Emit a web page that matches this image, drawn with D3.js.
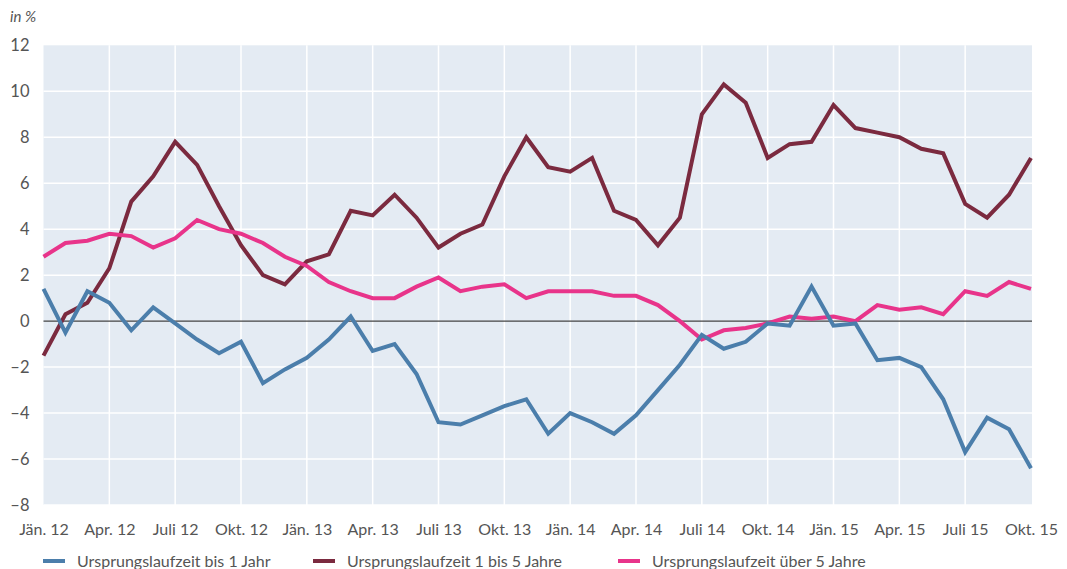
<!DOCTYPE html>
<html>
<head>
<meta charset="utf-8">
<script src="https://cdn.jsdelivr.net/npm/d3@7"></script>
<style>
  body { margin: 0; background: #fff; }
  svg text { font-family: Lato, "Open Sans", sans-serif; fill: #555; }
</style>
</head>
<body>
<svg id="chart"></svg>
<script>
let svgWidth = 1067, svgHeight = 569

// monthly, Jän. 12 .. Okt. 15
let months = d3.range(46)
let bis1 = [1.4, -0.5, 1.3, 0.8, -0.4, 0.6, -0.1, -0.8, -1.4, -0.9, -2.7, -2.1,
  -1.6, -0.8, 0.2, -1.3, -1.0, -2.3, -4.4, -4.5, -4.1, -3.7, -3.4, -4.9,
  -4.0, -4.4, -4.9, -4.1, -3.0, -1.9, -0.6, -1.2, -0.9, -0.1, -0.2, 1.5,
  -0.2, -0.1, -1.7, -1.6, -2.0, -3.4, -5.7, -4.2, -4.7, -6.4]
let bis5 = [-1.5, 0.3, 0.8, 2.3, 5.2, 6.3, 7.8, 6.8, 5.0, 3.3, 2.0, 1.6,
  2.6, 2.9, 4.8, 4.6, 5.5, 4.5, 3.2, 3.8, 4.2, 6.3, 8.0, 6.7,
  6.5, 7.1, 4.8, 4.4, 3.3, 4.5, 9.0, 10.3, 9.5, 7.1, 7.7, 7.8,
  9.4, 8.4, 8.2, 8.0, 7.5, 7.3, 5.1, 4.5, 5.5, 7.1]
let ueber5 = [2.8, 3.4, 3.5, 3.8, 3.7, 3.2, 3.6, 4.4, 4.0, 3.8, 3.4, 2.8,
  2.4, 1.7, 1.3, 1.0, 1.0, 1.5, 1.9, 1.3, 1.5, 1.6, 1.0, 1.3,
  1.3, 1.3, 1.1, 1.1, 0.7, 0.0, -0.8, -0.4, -0.3, -0.1, 0.2, 0.1,
  0.2, 0.0, 0.7, 0.5, 0.6, 0.3, 1.3, 1.1, 1.7, 1.4]
let tickLabels = ['Jän. 12', 'Apr. 12', 'Juli 12', 'Okt. 12', 'Jän. 13', 'Apr. 13', 'Juli 13', 'Okt. 13',
  'Jän. 14', 'Apr. 14', 'Juli 14', 'Okt. 14', 'Jän. 15', 'Apr. 15', 'Juli 15', 'Okt. 15']
let yTicks = [-8, -6, -4, -2, 0, 2, 4, 6, 8, 10, 12]
let seriesNames = ['Ursprungslaufzeit bis 1 Jahr', 'Ursprungslaufzeit 1 bis 5 Jahre', 'Ursprungslaufzeit über 5 Jahre']
let colors = ['#4b7eab', '#7b2a3f', '#e8348a']

let margin = {left: 43.5, right: 36, top: 45.3, bottom: 64}
let svg = d3.select('#chart').attr('width', svgWidth).attr('height', svgHeight)

let x = d3.scaleLinear().domain([0, 45]).range([margin.left, svgWidth - margin.right])
let y = d3.scaleLinear().domain([-8, 12]).range([svgHeight - margin.bottom, margin.top])

// background
svg.append('rect')
  .attr('x', x(0)).attr('y', y(12))
  .attr('width', x(45) - x(0) + 1).attr('height', y(-8) - y(12))
  .attr('fill', '#e4ebf3')

// grid
let grid = svg.append('g').attr('stroke', '#fff').attr('stroke-width', 1.5)
grid.selectAll('.hg').data(yTicks.filter(d => d != 0 && d != 12)).enter().append('line')
  .attr('x1', x(0)).attr('x2', x(45) + 1)
  .attr('y1', d => y(d)).attr('y2', d => y(d))
grid.selectAll('.vg').data(d3.range(3, 45, 3)).enter().append('line')
  .attr('x1', d => x(d)).attr('x2', d => x(d))
  .attr('y1', y(12)).attr('y2', y(-8))

// zero line
svg.append('line')
  .attr('x1', x(0)).attr('x2', x(45) + 1)
  .attr('y1', y(0)).attr('y2', y(0))
  .attr('stroke', '#444').attr('stroke-width', 1.2)

// y axis
let yAxis = d3.axisLeft(y).tickValues(yTicks).tickSize(0).tickPadding(14)
  .tickFormat(d => d < 0 ? '\u2013' + Math.abs(d) : d)
let ya = svg.append('g').attr('transform', `translate(${x(0)},0)`).call(yAxis)
ya.select('.domain').remove()
ya.selectAll('text').attr('font-size', 16.5).attr('font-family', 'Lato, sans-serif').attr('fill', '#555')

// x axis
let xAxis = d3.axisBottom(x).tickValues(d3.range(0, 46, 3)).tickSize(0).tickPadding(19)
  .tickFormat((d, i) => tickLabels[i])
let xa = svg.append('g').attr('transform', `translate(0,${y(-8)})`).call(xAxis)
xa.select('.domain').remove()
xa.selectAll('text').attr('font-size', 16).attr('font-family', 'Lato, sans-serif').attr('fill', '#555')

svg.append('text').attr('x', 10).attr('y', 22)
  .attr('font-size', 15).attr('font-style', 'italic').text('in %')

// lines
let line = d3.line().x((d, i) => x(months[i])).y(d => y(d))
let allSeries = [bis1, bis5, ueber5]
svg.selectAll('.series').data([bis5, ueber5, bis1]).enter().append('path')
  .attr('d', line)
  .attr('fill', 'none')
  .attr('stroke', d => colors[allSeries.indexOf(d)])
  .attr('stroke-width', 4)
  .attr('stroke-linejoin', 'miter')

// legend
let legendX = [43, 313, 618]
let legend = svg.selectAll('.legend').data(seriesNames).enter().append('g')
  .attr('transform', (d, i) => `translate(${legendX[i]},561)`)
legend.append('line').attr('x1', 0).attr('x2', 22).attr('y1', 0).attr('y2', 0)
  .attr('stroke', (d, i) => colors[i]).attr('stroke-width', 4)
legend.append('text').attr('x', 34).attr('y', 0).attr('dy', '0.35em')
  .attr('font-size', 16).text(d => d)
</script>
</body>
</html>
